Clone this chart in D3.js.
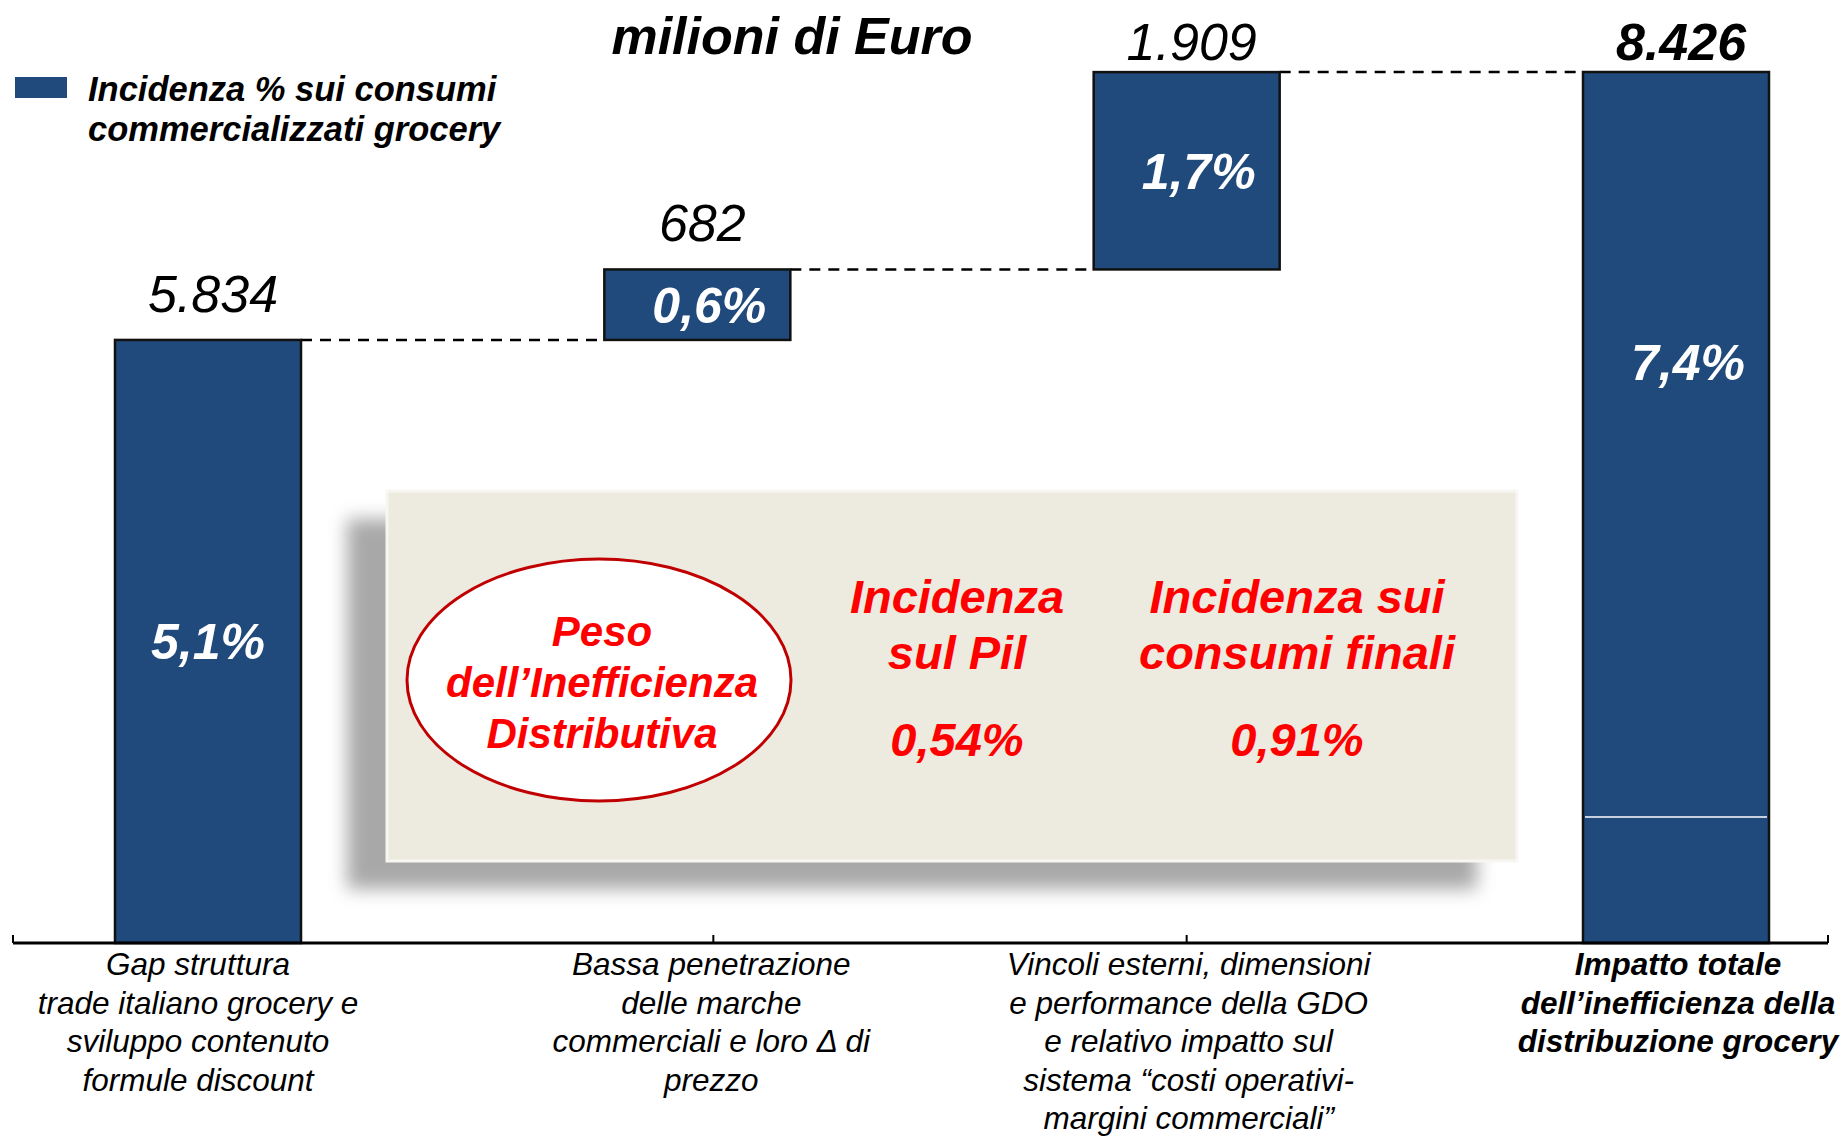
<!DOCTYPE html>
<html>
<head>
<meta charset="utf-8">
<script src="https://cdn.jsdelivr.net/npm/d3@7.9.0/dist/d3.min.js"></script>
<style>
  html, body { margin: 0; padding: 0; background: #fff; }
  svg { display: block; font-family: "Liberation Sans", Arial, sans-serif; }
</style>
</head>
<body>
<svg id="chart" width="1847" height="1136"></svg>
<script>
// === Data ===
const categories = [
  ['Gap struttura', 'trade italiano grocery e', 'sviluppo contenuto', 'formule discount'],
  ['Bassa penetrazione', 'delle marche', 'commerciali e loro Δ di', 'prezzo'],
  ['Vincoli esterni, dimensioni', 'e performance della GDO', 'e relativo impatto sul', 'sistema “costi operativi-', 'margini commerciali”'],
  ['Impatto totale', 'dell’inefficienza della', 'distribuzione grocery']
];
const steps = [5834, 682, 1909];          // milioni di Euro
const total = 8426;
const valueLabels = ['5.834', '682', '1.909', '8.426'];
const shareLabels = ['5,1%', '0,6%', '1,7%', '7,4%'];
const totalSplit = 1220;                  // thin white line inside the total bar

const boxHeads = [['Incidenza', 'sul Pil'], ['Incidenza sui', 'consumi finali']];
const boxValues = ['0,54%', '0,91%'];
const ellipseLines = ['Peso', 'dell’Inefficienza', 'Distributiva'];

const BLUE = '#214a7c';
const RED = '#ff0000';

// === Build waterfall segments ===
let run = 0;
const bars = steps.map((v, i) => {
  const d = { i, y0: run, y1: run + v, total: false };
  run += v;
  return d;
});
bars.push({ i: 3, y0: 0, y1: total, total: true });

const svg = d3.select('#chart');

const x = d3.scalePoint().domain(d3.range(4)).range([208, 1676]);
const y = d3.scaleLinear().domain([0, total]).range([943, 72]);
const barW = 186;

// === Title & legend ===
svg.append('text')
  .attr('x', 792).attr('y', 54)
  .attr('text-anchor', 'middle')
  .attr('font-size', 52).attr('font-weight', 'bold').attr('font-style', 'italic')
  .text('milioni di Euro');

svg.append('rect')
  .attr('x', 15).attr('y', 77).attr('width', 52).attr('height', 21)
  .attr('fill', BLUE);

svg.append('text')
  .attr('x', 88).attr('y', 101)
  .attr('font-size', 34.5).attr('font-weight', 'bold').attr('font-style', 'italic')
  .selectAll('tspan')
  .data(['Incidenza % sui consumi', 'commercializzati grocery'])
  .join('tspan')
  .attr('x', 88).attr('dy', (d, i) => i ? 40 : 0)
  .text(d => d);

// === Info box with shadow ===
const defs = svg.append('defs');
defs.append('filter').attr('id', 'blur')
  .attr('x', '-10%').attr('y', '-10%').attr('width', '120%').attr('height', '130%')
  .append('feGaussianBlur').attr('stdDeviation', 9);

const box = { x: 387, y: 491, w: 1130, h: 370 };
svg.append('rect')
  .attr('x', box.x - 40).attr('y', box.y + 28)
  .attr('width', box.w).attr('height', box.h)
  .attr('fill', '#9a9a9a').attr('opacity', 0.85)
  .attr('filter', 'url(#blur)');
svg.append('rect')
  .attr('x', box.x).attr('y', box.y)
  .attr('width', box.w).attr('height', box.h)
  .attr('fill', '#edeae0')
  .attr('stroke', '#f7f6f1').attr('stroke-width', 3);

svg.append('ellipse')
  .attr('cx', 599).attr('cy', 680).attr('rx', 192).attr('ry', 121)
  .attr('fill', '#fff').attr('stroke', '#c00000').attr('stroke-width', 3);

svg.append('text')
  .attr('x', 602).attr('y', 646)
  .attr('text-anchor', 'middle').attr('fill', RED)
  .attr('font-size', 42).attr('font-weight', 'bold').attr('font-style', 'italic')
  .selectAll('tspan')
  .data(ellipseLines)
  .join('tspan')
  .attr('x', 602).attr('dy', (d, i) => i ? 51 : 0)
  .text(d => d);

const boxCols = d3.scalePoint().domain([0, 1]).range([957, 1297]);
boxHeads.forEach((lines, c) => {
  const g = svg.append('g')
    .attr('fill', RED).attr('text-anchor', 'middle')
    .attr('font-size', 47).attr('font-weight', 'bold').attr('font-style', 'italic');
  lines.forEach((l, k) => {
    g.append('text').attr('x', boxCols(c)).attr('y', 613 + k * 56).text(l);
  });
  g.append('text').attr('x', boxCols(c)).attr('y', 756).text(boxValues[c]);
});

// === Connectors ===
const conn = svg.append('g')
  .attr('stroke', '#000').attr('stroke-width', 2.5).attr('stroke-dasharray', '11,8');
bars.slice(0, 3).forEach(d => {
  conn.append('line')
    .attr('x1', x(d.i) + barW / 2).attr('x2', x(d.i + 1) - barW / 2)
    .attr('y1', y(d.y1)).attr('y2', y(d.y1));
});

// === Bars ===
svg.append('g')
  .selectAll('rect')
  .data(bars)
  .join('rect')
  .attr('x', d => x(d.i) - barW / 2)
  .attr('y', d => y(d.y1))
  .attr('width', barW)
  .attr('height', d => y(d.y0) - y(d.y1))
  .attr('fill', BLUE)
  .attr('stroke', '#111').attr('stroke-width', 2.5);

svg.append('line')
  .attr('x1', x(3) - barW / 2 + 2).attr('x2', x(3) + barW / 2 - 2)
  .attr('y1', y(totalSplit)).attr('y2', y(totalSplit))
  .attr('stroke', '#fff').attr('stroke-width', 1.5);

// value labels above bars
svg.append('g')
  .selectAll('text')
  .data(bars)
  .join('text')
  .attr('x', d => x(d.i) + 5)
  .attr('y', d => Math.max(y(d.y1) - 28, 60))
  .attr('text-anchor', 'middle')
  .attr('font-size', 52).attr('font-style', 'italic')
  .attr('font-weight', d => d.total ? 'bold' : 'normal')
  .text((d, i) => valueLabels[i]);

// share labels inside bars
svg.append('g')
  .selectAll('text')
  .data(bars)
  .join('text')
  .attr('x', d => x(d.i) + (d.i ? 12 : 0))
  .attr('y', d => {
    const top = y(d.y1), h = y(d.y0) - y(d.y1);
    return top + h * (d.total ? 1 / 3 : 1 / 2) + 18;
  })
  .attr('text-anchor', 'middle')
  .attr('fill', '#fff')
  .attr('font-size', 50).attr('font-weight', 'bold').attr('font-style', 'italic')
  .text((d, i) => shareLabels[i]);

// === Axis ===
const axisY = y(0);
const axisG = svg.append('g').attr('stroke', '#000');
axisG.append('line')
  .attr('x1', 13).attr('x2', 1828)
  .attr('y1', axisY).attr('y2', axisY)
  .attr('stroke-width', 3);
[13, x(1) + 16, x(2), 1828].forEach(tx => {
  axisG.append('line')
    .attr('x1', tx).attr('x2', tx)
    .attr('y1', axisY - 8).attr('y2', axisY)
    .attr('stroke-width', 2);
});

// category labels
categories.forEach((lines, i) => {
  const g = svg.append('text')
    .attr('text-anchor', 'middle')
    .attr('font-size', 31.5).attr('font-style', 'italic')
    .attr('font-weight', i === 3 ? 'bold' : 'normal')
    .attr('y', 975);
  g.selectAll('tspan')
    .data(lines)
    .join('tspan')
    .attr('x', x(i) + (i === 0 ? -10 : i === 1 ? 14 : 2))
    .attr('dy', (d, k) => k ? 38.5 : 0)
    .text(d => d);
});
</script>
</body>
</html>
